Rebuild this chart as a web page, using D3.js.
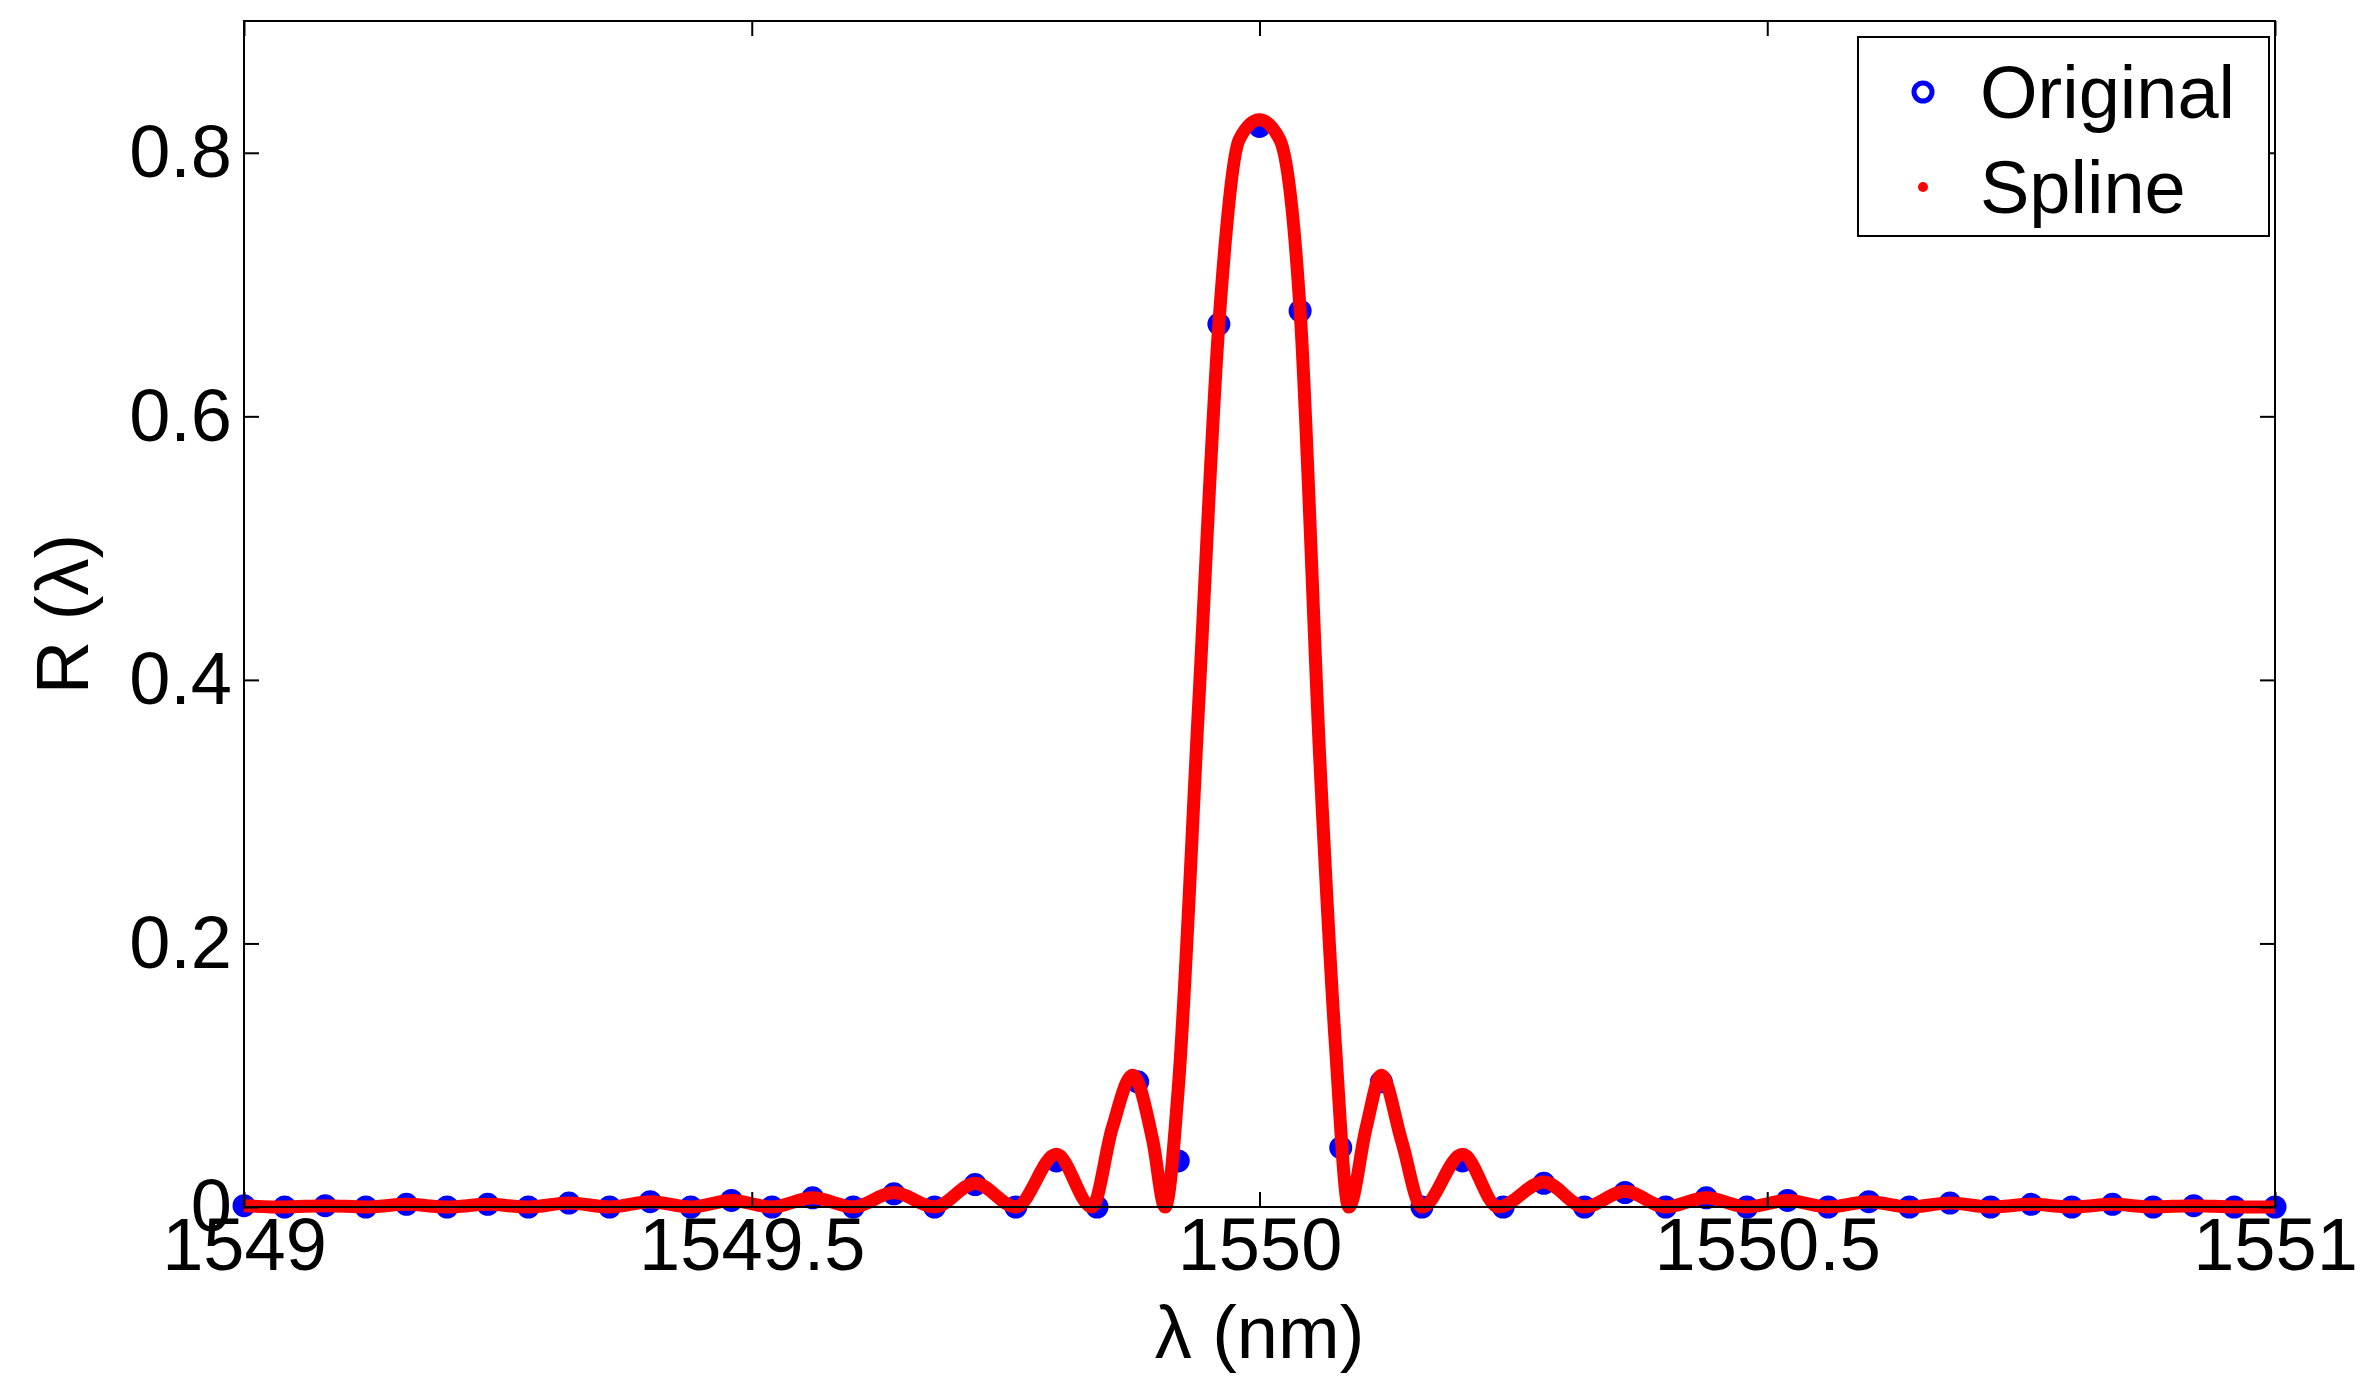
<!DOCTYPE html>
<html>
<head>
<script src="https://cdn.jsdelivr.net/npm/d3@7"></script>
<style>body{margin:0;background:#fff;} text{font-family:"Liberation Sans",Arial,sans-serif;}</style>
</head>
<body>
<script>
// original samples (every 0.04 nm)
var origX = d3.range(51).map(function(i){ return +(1549 + i*0.04).toFixed(2); });
var origY = [0.001,0,0.001,0,0.002,0,0.002,0,0.003,0,0.004,0,0.005,0,0.007,0,
             0.010,0,0.017,0,0.035,0,0.095,0.035,0.67,0.82,0.68,0.045,0.095,0,
             0.035,0,0.018,0,0.011,0,0.007,0,0.005,0,0.004,0,0.003,0,0.002,0,0.002,0,0.001,0,0];
// spline curve knots
var splX = [1549,1549.04,1549.08,1549.12,1549.16,1549.2,1549.24,1549.28,1549.32,1549.36,1549.4,1549.44,1549.48,1549.52,1549.56,1549.6,1549.64,1549.68,1549.72,1549.76,
            1549.80,1549.835,1549.855,1549.875,1549.895,1549.907,1549.92,1549.94,1549.96,1549.98,1550,1550.02,1550.04,1550.06,1550.075,1550.088,
            1550.105,1550.12,1550.14,1550.16,1550.20,1550.235,1550.28,1550.32,1550.36,1550.4,1550.44,1550.48,1550.52,1550.56,1550.6,1550.64,1550.68,1550.72,1550.76,1550.8,1550.84,1550.88,1550.92,1550.96,1551];
var splY = [0.001,0,0.001,0,0.002,0,0.002,0,0.003,0,0.004,0,0.005,0,0.007,0,0.011,0,0.018,0,
            0.04,0,0.06,0.1,0.05,0,0.09,0.38,0.67,0.81,0.825,0.81,0.68,0.33,0.12,0,
            0.06,0.1,0.05,0,0.04,0,0.019,0,0.012,0,0.007,0,0.005,0,0.004,0,0.003,0,0.002,0,0.002,0,0.001,0,0];
var xTicks = [1549,1549.5,1550,1550.5,1551];
var yTicks = [0,0.2,0.4,0.6,0.8];

var W = 2377, H = 1397;
var m = {left:244, right:102, top:21, bottom:190};
var w = W-m.left-m.right, h = H-m.top-m.bottom;

var svg = d3.select('body').append('svg').attr('width',W).attr('height',H);
var g = svg.append('g').attr('transform','translate('+m.left+','+m.top+')');

var x = d3.scaleLinear().domain([1549,1551]).range([0,w]);
var y = d3.scaleLinear().domain([0,0.9]).range([h,0]);

// original points
g.append('g').selectAll('circle').data(origX).enter().append('circle')
  .attr('cx',function(d){return x(d);})
  .attr('cy',function(d,i){return y(origY[i]);})
  .attr('r',10).attr('fill','#0000ff').attr('stroke','#0000ff').attr('stroke-width',3);

// spline
g.append('path').datum(splX)
  .attr('d', d3.line().x(function(d){return x(d);}).y(function(d,i){return y(splY[i]);}).curve(d3.curveMonotoneX))
  .attr('fill','none').attr('stroke','#ff0000').attr('stroke-width',13).attr('stroke-linejoin','round');

// box
g.append('rect').attr('width',w).attr('height',h).attr('fill','none').attr('stroke','#000').attr('stroke-width',2);

var fs = 74;
var xa = g.append('g').attr('transform','translate(0,'+h+')')
  .call(d3.axisBottom(x).tickValues(xTicks).tickSize(-15).tickPadding(10).tickFormat(d3.format('')));
var ya = g.append('g')
  .call(d3.axisLeft(y).tickValues(yTicks).tickSize(-15).tickPadding(12).tickFormat(function(d){return d===0?'0':d3.format('.1f')(d);}));
g.append('g').call(d3.axisTop(x).tickValues(xTicks).tickSize(-15).tickFormat(''));
g.append('g').attr('transform','translate('+w+',0)')
  .call(d3.axisRight(y).tickValues(yTicks).tickSize(-15).tickFormat(''));
g.selectAll('.domain').remove();
g.selectAll('.tick line').attr('stroke','#000').attr('stroke-width',2);
xa.selectAll('text').attr('font-size',fs).attr('fill','#000').attr('dy','0.72em');
ya.selectAll('text').attr('font-size',fs).attr('fill','#000');

svg.append('text').attr('x',m.left+w/2).attr('y',1358).attr('text-anchor','middle')
  .attr('font-size',fs).text('λ (nm)');
svg.append('text').attr('transform','translate(88,'+(m.top+h/2)+') rotate(-90)')
  .attr('text-anchor','middle').attr('font-size',fs).text('R (λ)');

// legend
var lg = svg.append('g').attr('transform','translate(1858,37)');
lg.append('rect').attr('width',411).attr('height',199).attr('fill','#fff').attr('stroke','#000').attr('stroke-width',2);
lg.append('circle').attr('cx',65).attr('cy',55).attr('r',9).attr('fill','none').attr('stroke','#0000ff').attr('stroke-width',5);
lg.append('text').attr('x',122).attr('y',55).attr('dy','0.35em').attr('font-size',fs).text('Original');
lg.append('circle').attr('cx',65).attr('cy',150).attr('r',5).attr('fill','#ff0000');
lg.append('text').attr('x',122).attr('y',150).attr('dy','0.35em').attr('font-size',fs).text('Spline');
</script>
</body>
</html>
